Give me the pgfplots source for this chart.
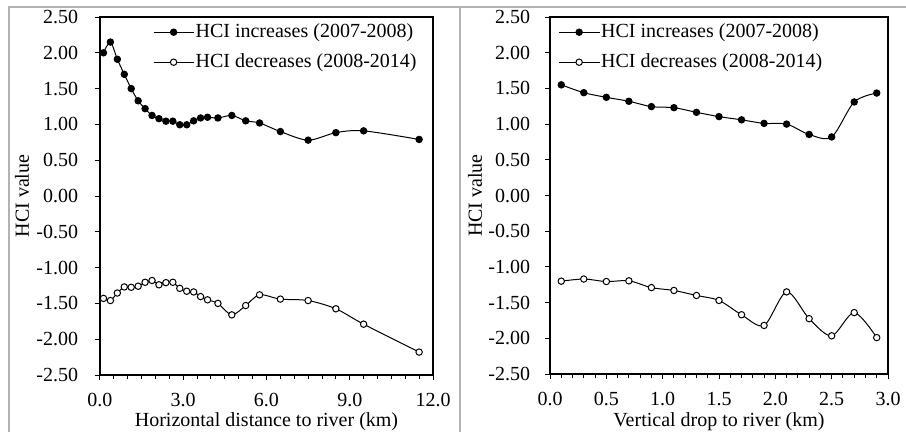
\documentclass[border=0pt]{standalone}
\usepackage{fontspec}
\setmainfont{Liberation Serif}
\usepackage{pgfplots}
\usepackage{pgfplotstable}
\pgfplotsset{compat=1.18}

% left panel: horizontal distance to river (km)
\pgfplotstableread{
x y
0.125 2.00
0.375 2.15
0.625 1.91
0.875 1.70
1.125 1.50
1.375 1.33
1.625 1.22
1.875 1.125
2.125 1.08
2.375 1.045
2.625 1.045
2.875 0.995
3.125 0.995
3.375 1.05
3.625 1.09
3.875 1.10
4.25 1.09
4.75 1.125
5.25 1.05
5.75 1.02
6.5 0.90
7.5 0.78
8.5 0.885
9.5 0.91
11.5 0.79
}\horizinc
\pgfplotstableread{
x y
0.125 -1.43
0.375 -1.46
0.625 -1.355
0.875 -1.27
1.125 -1.275
1.375 -1.26
1.625 -1.205
1.875 -1.18
2.125 -1.24
2.375 -1.21
2.625 -1.205
2.875 -1.29
3.125 -1.33
3.375 -1.34
3.625 -1.405
3.875 -1.45
4.25 -1.50
4.75 -1.66
5.25 -1.53
5.75 -1.38
6.5 -1.44
7.5 -1.46
8.5 -1.575
9.5 -1.79
11.5 -2.18
}\horizdec
% right panel: vertical drop to river (km)
\pgfplotstableread{
x y
0.1 1.55
0.3 1.44
0.5 1.375
0.7 1.32
0.9 1.245
1.1 1.23
1.3 1.165
1.5 1.105
1.7 1.06
1.9 1.01
2.1 1.00
2.3 0.855
2.5 0.82
2.7 1.31
2.9 1.435
}\vertinc
\pgfplotstableread{
x y
0.1 -1.20
0.3 -1.17
0.5 -1.205
0.7 -1.195
0.9 -1.29
1.1 -1.33
1.3 -1.40
1.5 -1.47
1.7 -1.67
1.9 -1.82
2.1 -1.35
2.3 -1.725
2.5 -1.965
2.7 -1.64
2.9 -1.99
}\vertdec

\newcommand\chartfont{\fontsize{20}{24}\selectfont}

\pgfplotsset{
  hci/.style={
    scale only axis,
    /pgf/number format/assume math mode=true,
    every tick label/.append style={font=\chartfont},
    label style={font=\chartfont},
    axis line style={line width=1.2pt},
    tick style={black, line width=1pt},
    major tick length=5pt, minor tick length=4pt,
    tick align=outside, tick pos=left,
    ymin=-2.5, ymax=2.5, ytick distance=0.5,
    yticklabel style={/pgf/number format/.cd, fixed, fixed zerofill, precision=2},
    xticklabel style={yshift=-6pt, /pgf/number format/.cd, fixed, fixed zerofill, precision=1},
    ylabel={HCI value},
    legend cell align=left,
    legend style={draw=none, fill=none, inner sep=0pt, row sep=0pt, column sep=0pt,
      font=\chartfont, nodes={inner xsep=1.5pt, inner ysep=0pt, minimum height=30pt}},
    legend image code/.code={%
      \draw[mark repeat=2, mark phase=2, #1] plot coordinates {(0pt,0pt) (20pt,0pt) (40pt,0pt)};},
  },
  incr/.style={black, line width=1pt, smooth, tension=0.5, mark=*, mark size=3.2pt,
    mark options={solid, fill=black}},
  decr/.style={black, line width=1pt, smooth, tension=0.5, mark=*, mark size=3.2pt,
    mark options={solid, fill=white}},
}

\begin{document}
\chartfont
\begin{tikzpicture}[font=\chartfont]
\path[use as bounding box] (0,0) rectangle (906pt,432pt);
\draw[gray!60, line width=1.3pt] (9pt,0pt) -- (9pt,425pt) -- (906pt,425pt);
\draw[gray!60, line width=1.3pt] (460pt,0pt) -- (460pt,425pt);

\begin{axis}[hci,
  at={(100pt,57pt)}, anchor=south west,
  width=333pt, height=358pt,
  xmin=0, xmax=12, xtick={0,3,...,12}, minor x tick num=5,
  yticklabel style={/tikz/xshift=-10pt},
  xlabel={Horizontal distance to river (km)},
  xlabel style={at={(axis description cs:0.5,-0.145)}, anchor=base},
  ylabel style={at={(axis description cs:-0.234,0.5)}, anchor=center},
  legend style={at={(axis description cs:0.956,1.0)}, anchor=north east},
]
\addplot[incr] table {\horizinc};
\addplot[decr] table {\horizdec};
\legend{HCI increases (2007-2008), HCI decreases (2008-2014)}
\end{axis}

\begin{axis}[hci,
  at={(550pt,58pt)}, anchor=south west,
  width=338pt, height=357pt,
  xmin=0, xmax=3, xtick distance=0.5, minor x tick num=4,
  yticklabel style={/tikz/xshift=-8pt},
  xlabel={Vertical drop to river (km)},
  xlabel style={at={(axis description cs:0.5,-0.148)}, anchor=base},
  ylabel style={at={(axis description cs:-0.222,0.5)}, anchor=center},
  legend style={at={(axis description cs:0.025,1.0)}, anchor=north west},
]
\addplot[incr] table {\vertinc};
\addplot[decr] table {\vertdec};
\legend{HCI increases (2007-2008), HCI decreases (2008-2014)}
\end{axis}
\end{tikzpicture}
\end{document}
